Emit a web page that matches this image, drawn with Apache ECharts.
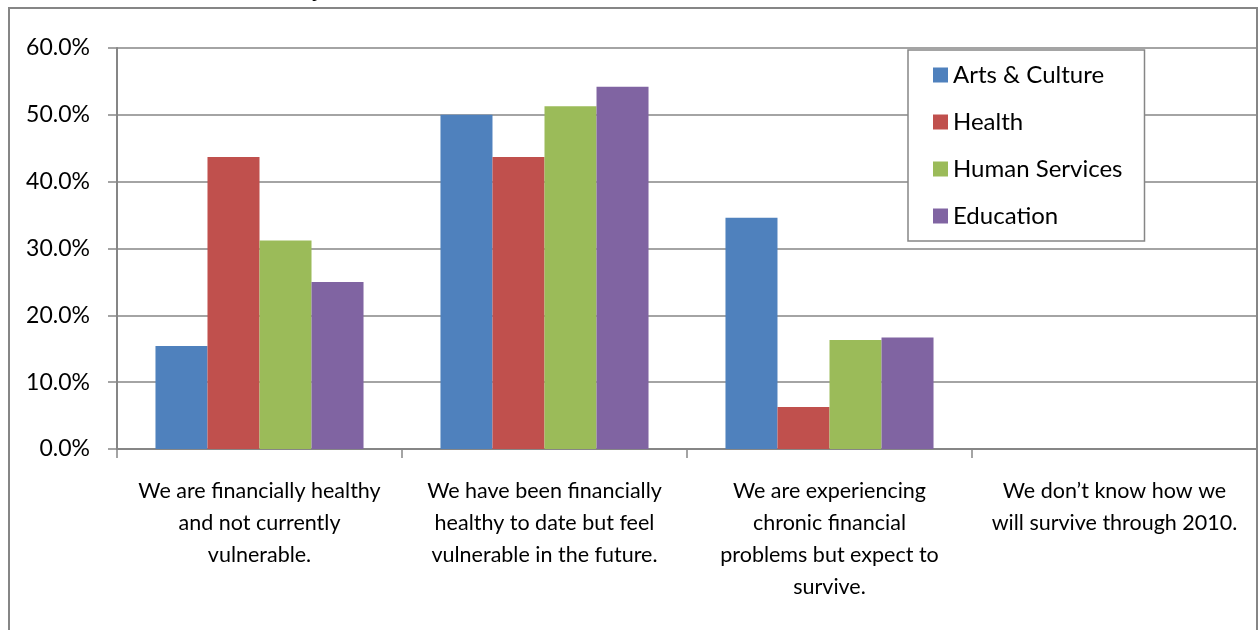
<!DOCTYPE html>
<html>
<head>
<meta charset="utf-8">
<script src="https://cdn.jsdelivr.net/npm/echarts@6/dist/echarts.min.js"></script>
<style>
html,body{margin:0;padding:0;background:#fff;}
#chart{width:1259px;height:630px;}
</style>
</head>
<body>
<div id="chart"></div>
<script>
var categories = [
  "We are financially healthy\nand not currently\nvulnerable.",
  "We have been financially\nhealthy to date but feel\nvulnerable in the future.",
  "We are experiencing\nchronic financial\nproblems but expect to\nsurvive.",
  "We don\u2019t know how we\nwill survive through 2010."
];
var seriesNames = ["Arts & Culture", "Health", "Human Services", "Education"];
var artsCulture   = [15.4, 50.0, 34.6, 0];
var health        = [43.7, 43.7, 6.3, 0];
var humanServices = [31.2, 51.3, 16.3, 0];
var education     = [25.0, 54.2, 16.7, 0];
var yTicks = { min: 0, max: 60, interval: 10 };
var colors = ["#4F81BD", "#C0504D", "#9BBB59", "#8064A2"];

var values = [artsCulture, health, humanServices, education];
var FONT = "Lato, 'Open Sans', sans-serif";

var chart = echarts.init(document.getElementById('chart'));
chart.setOption({
  animation: false,
  color: colors,
  graphic: [
    { type: 'rect', shape: { x: 9, y: 8, width: 1248, height: 640 },
      style: { fill: 'none', stroke: '#868686', lineWidth: 2 }, z: -1 },
    { type: 'text', left: 5, top: -23,
      style: { text: 'Chart 11: Financial Health by Sector', font: 'bold 25px "Liberation Serif", serif', fill: '#000' } }
  ],
  grid: { left: 117, right: 2, top: 48, bottom: 181, containLabel: false },
  legend: {
    orient: 'vertical',
    left: 908, top: 50,
    padding: [13, 22, 13, 25],
    borderColor: '#868686', borderWidth: 1.5,
    backgroundColor: '#fff',
    itemWidth: 15, itemHeight: 15, itemGap: 23,
    itemStyle: { borderWidth: 0 },
    icon: 'rect',
    textStyle: { fontFamily: FONT, fontSize: 24, color: '#000', lineHeight: 24 },
    data: seriesNames
  },
  xAxis: {
    type: 'category',
    data: categories,
    axisLine: { lineStyle: { color: '#868686', width: 2 } },
    axisTick: { show: true, length: 9, lineStyle: { color: '#868686', width: 1.5 } },
    axisLabel: { fontFamily: FONT, fontSize: 21.5, color: '#000', lineHeight: 32, margin: 26, interval: 0, align: 'center' }
  },
  yAxis: {
    type: 'value',
    min: yTicks.min, max: yTicks.max, interval: yTicks.interval,
    axisLine: { show: true, lineStyle: { color: '#868686', width: 2 } },
    axisTick: { show: true, length: 9, lineStyle: { color: '#868686', width: 1.5 } },
    splitLine: { lineStyle: { color: '#868686', width: 1.5 } },
    axisLabel: { fontFamily: FONT, fontSize: 23, color: '#000', margin: 27,
      formatter: function (v) { return v.toFixed(1) + '%'; } }
  },
  series: seriesNames.map(function (n, i) {
    return {
      name: n, type: 'bar', data: values[i],
      barGap: '0%', barCategoryGap: '27%',
      itemStyle: { color: colors[i] }
    };
  })
});
</script>
</body>
</html>
